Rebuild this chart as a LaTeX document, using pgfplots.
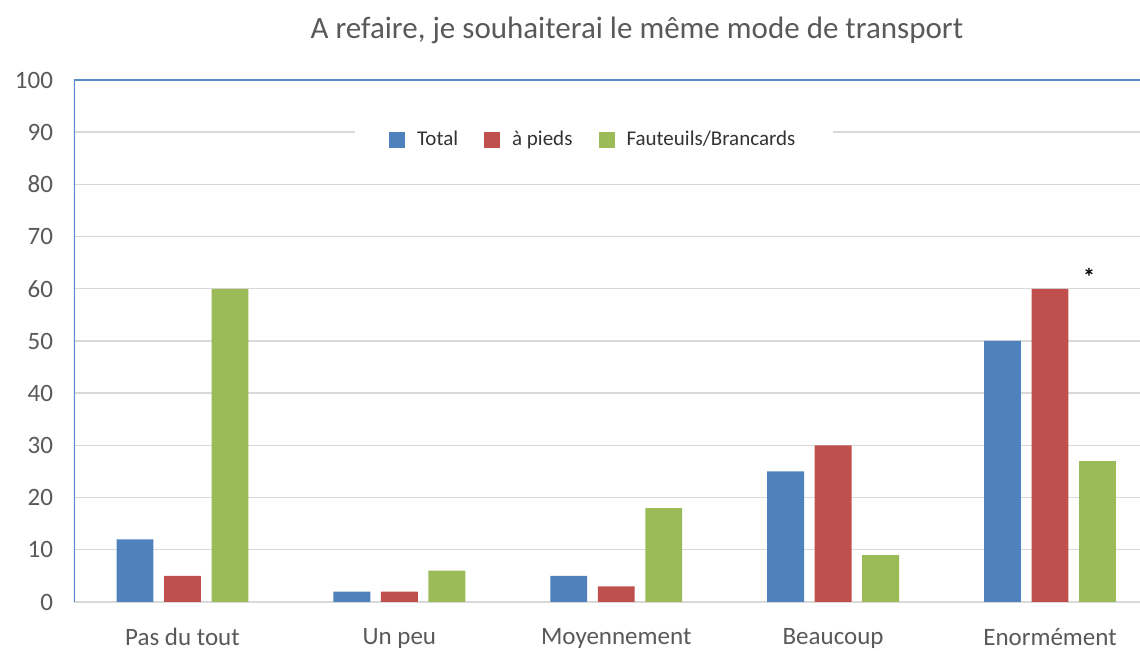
\documentclass[border=0pt]{standalone}
\usepackage{fontspec}
\setmainfont{Carlito}
\usepackage{pgfplots}
\pgfplotsset{compat=1.18}

\definecolor{cblue}{HTML}{4F81BD}
\definecolor{cred}{HTML}{C0504D}
\definecolor{cgreen}{HTML}{9BBB59}
\definecolor{axisblue}{HTML}{5B8BCB}
\definecolor{gridgray}{HTML}{D9D9D9}
\definecolor{textgray}{HTML}{595959}

\begin{document}
\begin{tikzpicture}
\begin{axis}[
    name=ax,
    scale only axis,
    width=533pt, height=261pt,
    xmin=-0.5, xmax=4.415,
    ymin=0, ymax=100,
    ytick={0,10,...,100},
    xtick={0,1,2,3,4},
    xticklabels={Pas du tout, Un peu, Moyennement, Beaucoup, Enormément},
    axis line style={draw=none},
    tick style={draw=none},
    ymajorgrids,
    grid style={line width=0.7pt, gridgray},
    /pgf/number format/assume math mode=true,
    ticklabel style={font=\fontsize{12.5}{14}\selectfont, text=textgray},
    yticklabel style={xshift=-7pt},
    xticklabel style={yshift=-5.5pt},
    ybar, bar width=0.17,
    title={A refaire, je souhaiterai le même mode de transport},
    title style={at={(0.528,1)}, anchor=center, yshift=19pt,
        font=\fontsize{15.5}{18}\selectfont, text=textgray},
    legend columns=-1,
    legend style={at={(0.488,0.885)}, anchor=center, draw=none, fill=white,
        font=\fontsize{10.5}{12}\selectfont, text=black!80,
        inner xsep=17pt, inner ysep=2pt,
        /tikz/every odd column/.append style={column sep=4pt},
        /tikz/every even column/.append style={column sep=11pt}},
    legend image code/.code={\fill[#1] (0pt,-4pt) rectangle (8pt,4pt);},
]
\addplot[fill=cblue, draw=none, bar shift=-0.219] coordinates {(0,12) (1,2) (2,5) (3,25) (4,50)};
\addlegendentry{Total}
\addplot[fill=cred, draw=none, bar shift=0] coordinates {(0,5) (1,2) (2,3) (3,30) (4,60)};
\addlegendentry{à pieds}
\addplot[fill=cgreen, draw=none, bar shift=0.219] coordinates {(0,60) (1,6) (2,18) (3,9) (4,27)};
\addlegendentry{Fauteuils/Brancards}

\draw[axisblue, line width=1pt] (rel axis cs:0,0) -- (rel axis cs:0,1) -- (rel axis cs:1,1);
\node[font=\bfseries\fontsize{12}{14}\selectfont] at (axis cs:4.18,62.3) {*};
\end{axis}
\pgfresetboundingbox
\path[use as bounding box] ([shift={(-37pt,-24.5pt)}]ax.south west) rectangle ([shift={(0pt,40pt)}]ax.north east);
\end{tikzpicture}
\end{document}
